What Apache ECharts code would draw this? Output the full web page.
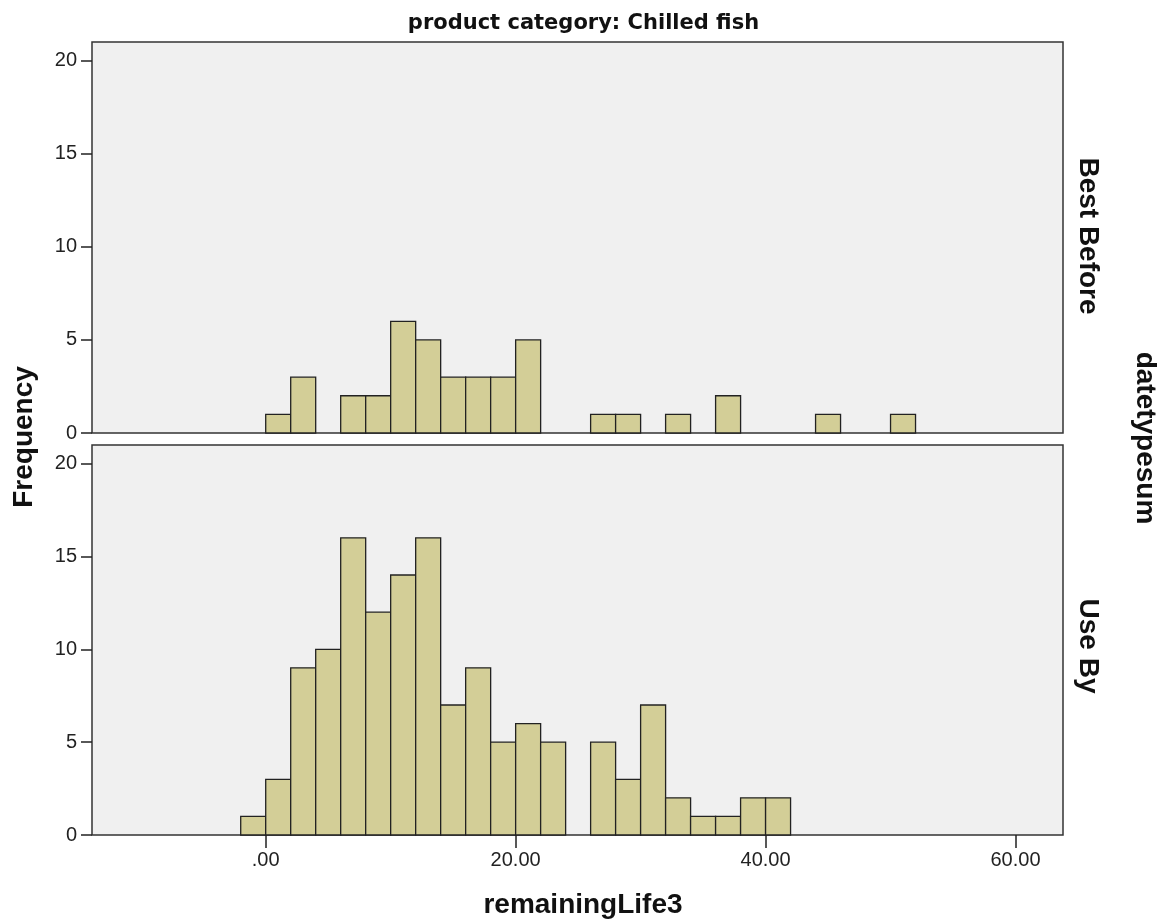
<!DOCTYPE html>
<html>
<head>
<meta charset="utf-8">
<script src="https://cdn.jsdelivr.net/npm/echarts@6/dist/echarts.min.js"></script>
<style>
    html, body { margin: 0; padding: 0; background: #fff; }
    #chart { width: 1167px; height: 923px; }
</style>
</head>
<body>
<div id="chart"></div>
<script>
// histogram bins: start of each bin, all bins are 2 wide
const binWidth = 2;
const binStarts = [-2, 0, 2, 4, 6, 8, 10, 12, 14, 16, 18, 20, 22, 24, 26, 28, 30, 32, 34, 36, 38, 40, 42, 44, 46, 48, 50];
const bestBefore = [0, 1, 3, 0, 2, 2, 6, 5, 3, 3, 3, 5, 0, 0, 1, 1, 0, 1, 0, 2, 0, 0, 0, 1, 0, 0, 1];
const useBy = [1, 3, 9, 10, 16, 12, 14, 16, 7, 9, 5, 6, 5, 0, 5, 3, 7, 2, 1, 1, 2, 2, 0, 0, 0, 0, 0];
const xTicks = [0, 20, 40, 60];
const yTicks = [0, 5, 10, 15, 20];

const font = '"Liberation Sans", Arial, sans-serif';
const titleFont = '"DejaVu Sans", Verdana, sans-serif';
const barFill = '#d3ce97';
const barStroke = '#222';

function histData(counts) {
    return binStarts.map((s, i) => [s, counts[i]]);
}

function renderBin(params, api) {
    let x0 = api.value(0);
    let c = api.value(1);
    if (!c) return;
    let p0 = api.coord([x0, c]);
    let p1 = api.coord([x0 + binWidth, 0]);
    return {
        type: 'rect',
        shape: { x: p0[0], y: p0[1], width: p1[0] - p0[0], height: p1[1] - p0[1] },
        style: { fill: barFill, stroke: barStroke, lineWidth: 1.3 }
    };
}

function yAxis(gridIndex) {
    return {
        type: 'value',
        gridIndex,
        min: 0,
        max: 21,
        axisLine: { show: false, onZero: false },
        splitLine: { show: false },
        axisTick: { show: true, length: 11, customValues: yTicks, lineStyle: { color: '#222', width: 1.5 } },
        axisLabel: { customValues: yTicks, margin: 15, color: '#222', fontSize: 20, fontFamily: font }
    };
}

function sideText(text, x, y, rot, size) {
    return {
        type: 'text', x, y, rotation: rot,
        style: { text, fontSize: size, fontWeight: 'bold', fontFamily: font, fill: '#111', align: 'center', verticalAlign: 'middle' }
    };
}

let chart = echarts.init(document.getElementById('chart'));
chart.setOption({
    backgroundColor: '#fff',
    animation: false,
    title: {
        text: 'product category: Chilled fish',
        left: 'center',
        top: 8,
        textStyle: { fontSize: 21, fontWeight: 'bold', color: '#111', fontFamily: titleFont }
    },
    grid: [
        { left: 92, top: 42, width: 971, height: 391, show: true, backgroundColor: '#f0f0f0', borderColor: '#333', borderWidth: 1.5 },
        { left: 92, top: 445, width: 971, height: 390, show: true, backgroundColor: '#f0f0f0', borderColor: '#333', borderWidth: 1.5 }
    ],
    xAxis: [
        {
            type: 'value', gridIndex: 0, min: -13.9, max: 63.8,
            axisLine: { show: false, onZero: false }, axisTick: { show: false }, axisLabel: { show: false }, splitLine: { show: false }
        },
        {
            type: 'value', gridIndex: 1, min: -13.9, max: 63.8,
            axisLine: { show: false, onZero: false },
            splitLine: { show: false },
            axisTick: { show: true, length: 13, customValues: xTicks, lineStyle: { color: '#222', width: 1.5 } },
            axisLabel: {
                customValues: xTicks, margin: 15, color: '#222', fontSize: 20, fontFamily: font,
                formatter: v => v === 0 ? '.00' : v.toFixed(2)
            }
        }
    ],
    yAxis: [yAxis(0), yAxis(1)],
    series: [
        { type: 'custom', name: 'Best Before', xAxisIndex: 0, yAxisIndex: 0, renderItem: renderBin, data: histData(bestBefore) },
        { type: 'custom', name: 'Use By', xAxisIndex: 1, yAxisIndex: 1, renderItem: renderBin, data: histData(useBy) }
    ],
    graphic: [
        sideText('Frequency', 24, 437, Math.PI / 2, 28),
        sideText('remainingLife3', 583, 905, 0, 28),
        sideText('Best Before', 1088, 236, -Math.PI / 2, 28),
        sideText('Use By', 1088, 646, -Math.PI / 2, 28),
        sideText('datetypesum', 1145, 438, -Math.PI / 2, 28)
    ]
});
</script>
</body>
</html>
